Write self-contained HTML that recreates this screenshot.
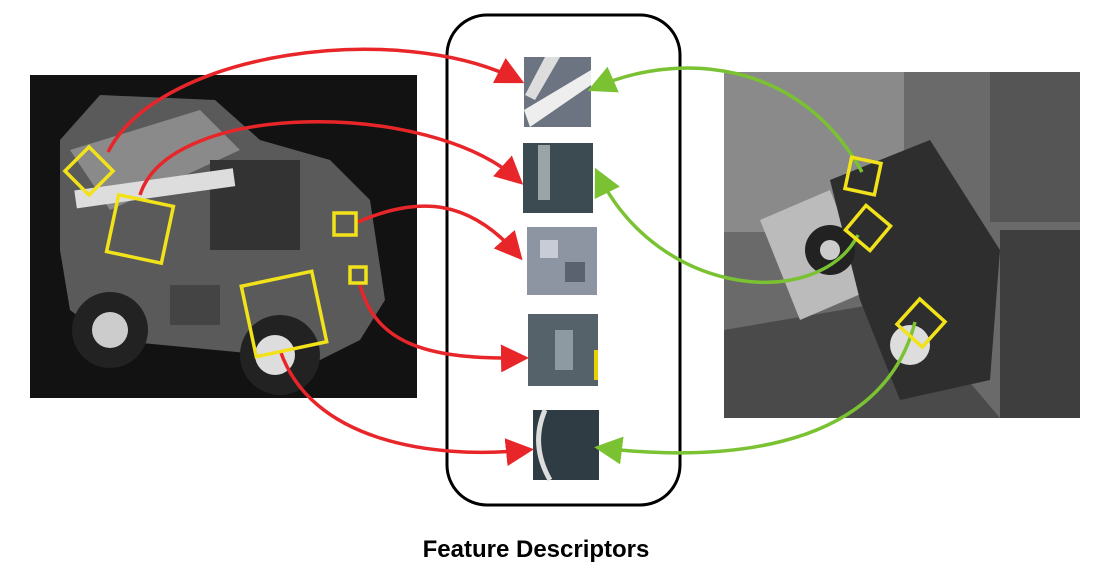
<!DOCTYPE html>
<html><head><meta charset="utf-8"><style>
html,body{margin:0;padding:0;background:#fff;}
svg{display:block;}
</style></head><body>
<svg width="1112" height="581" viewBox="0 0 1112 581" xmlns="http://www.w3.org/2000/svg">
<defs>
<marker id="ar" markerWidth="8" markerHeight="8" refX="6" refY="4" orient="auto" markerUnits="strokeWidth"><path d="M0,0 L8,4 L0,8 z" fill="#e8262a"/></marker>
<marker id="ag" markerWidth="8" markerHeight="8" refX="6" refY="4" orient="auto" markerUnits="strokeWidth"><path d="M0,0 L8,4 L0,8 z" fill="#7ac231"/></marker>
</defs>
<!-- left image -->
<rect x="30" y="75" width="387" height="323" fill="#121212"/>
<path d="M60,140 L100,95 L215,100 L260,140 L330,160 L370,200 L385,300 L360,340 L320,360 L110,340 L70,310 L60,250 Z" fill="#5a5a5a"/>
<path d="M70,150 L200,110 L240,150 L110,210 Z" fill="#8a8a8a"/>
<rect x="210" y="160" width="90" height="90" fill="#333"/>
<rect x="75" y="180" width="160" height="18" fill="#ddd" transform="rotate(-8 150 190)"/>
<circle cx="110" cy="330" r="38" fill="#222"/><circle cx="110" cy="330" r="18" fill="#ccc"/>
<circle cx="280" cy="355" r="40" fill="#222"/><circle cx="275" cy="355" r="20" fill="#ddd"/>
<rect x="170" y="285" width="50" height="40" fill="#444"/>
<!-- right image -->
<rect x="724" y="72" width="356" height="346" fill="#6a6a6a"/>
<rect x="724" y="72" width="180" height="160" fill="#8a8a8a"/>
<rect x="990" y="72" width="90" height="150" fill="#555"/>
<rect x="1000" y="230" width="80" height="188" fill="#3e3e3e"/>
<path d="M724,330 L900,300 L1000,418 L724,418 Z" fill="#4a4a4a"/>
<path d="M760,220 L830,190 L870,290 L800,320 Z" fill="#bbb"/>
<path d="M830,180 L930,140 L1000,250 L990,380 L900,400 L860,300 Z" fill="#2e2e2e"/>
<circle cx="830" cy="250" r="25" fill="#222"/><circle cx="830" cy="250" r="10" fill="#ccc"/>
<circle cx="910" cy="345" r="20" fill="#ddd"/>
<!-- center container -->
<rect x="447" y="15" width="233" height="490" rx="40" ry="40" fill="none" stroke="#000" stroke-width="3"/>
<!-- patches -->
<g>
<rect x="524" y="57" width="67" height="70" fill="#6b7480"/>
<path d="M524,110 L591,70 L591,85 L530,127 Z" fill="#eee"/>
<path d="M545,57 L560,57 L535,100 L525,95 Z" fill="#ddd"/>
<rect x="523" y="143" width="70" height="70" fill="#3c4a52"/>
<rect x="538" y="145" width="12" height="55" fill="#9aa3a8"/>
<rect x="527" y="227" width="70" height="68" fill="#8d95a3"/>
<rect x="540" y="240" width="18" height="18" fill="#c8ccd6"/><rect x="565" y="262" width="20" height="20" fill="#5a6270"/>
<rect x="528" y="314" width="70" height="72" fill="#55626a"/>
<rect x="555" y="330" width="18" height="40" fill="#8d9aa2"/><rect x="594" y="350" width="4" height="30" fill="#e8d000"/>
<rect x="533" y="410" width="66" height="70" fill="#2f3c44"/>
<path d="M545,410 Q530,445 550,480" stroke="#ddd" stroke-width="5" fill="none"/>
</g>
<!-- red arrows -->
<g fill="none" stroke="#e8262a" stroke-width="3.5">
<path d="M108,152 C160,50 400,20 518,80" marker-end="url(#ar)"/>
<path d="M140,195 C170,100 430,100 518,180" marker-end="url(#ar)"/>
<path d="M358,222 C420,195 470,200 518,255" marker-end="url(#ar)"/>
<path d="M360,285 C375,340 420,360 522,358" marker-end="url(#ar)"/>
<path d="M280,350 C310,440 430,460 527,450" marker-end="url(#ar)"/>
</g>
<!-- green arrows -->
<g fill="none" stroke="#7ac231" stroke-width="3.5">
<path d="M862,172 C800,60 680,50 594,88" marker-end="url(#ag)"/>
<path d="M858,235 C820,310 660,300 598,174" marker-end="url(#ag)"/>
<path d="M915,322 C880,460 700,460 601,448" marker-end="url(#ag)"/>
</g>
<!-- yellow boxes -->
<g fill="none" stroke="#f2e21a" stroke-width="3.5">
<rect x="72" y="154" width="34" height="34" transform="rotate(45 89 171)"/>
<rect x="112" y="200" width="56" height="58" transform="rotate(12 140 229)"/>
<rect x="334" y="213" width="22" height="22"/>
<rect x="350" y="267" width="16" height="16"/>
<rect x="248" y="278" width="72" height="72" transform="rotate(-12 284 314)"/>
<rect x="848" y="160" width="30" height="32" transform="rotate(12 863 176)"/>
<rect x="852" y="212" width="32" height="32" transform="rotate(40 868 228)"/>
<rect x="904" y="306" width="34" height="34" transform="rotate(42 921 323)"/>
</g>
<text x="536" y="557" text-anchor="middle" font-family="Liberation Sans, sans-serif" font-weight="bold" font-size="24" fill="#000">Feature Descriptors</text>
</svg>
</body></html>
